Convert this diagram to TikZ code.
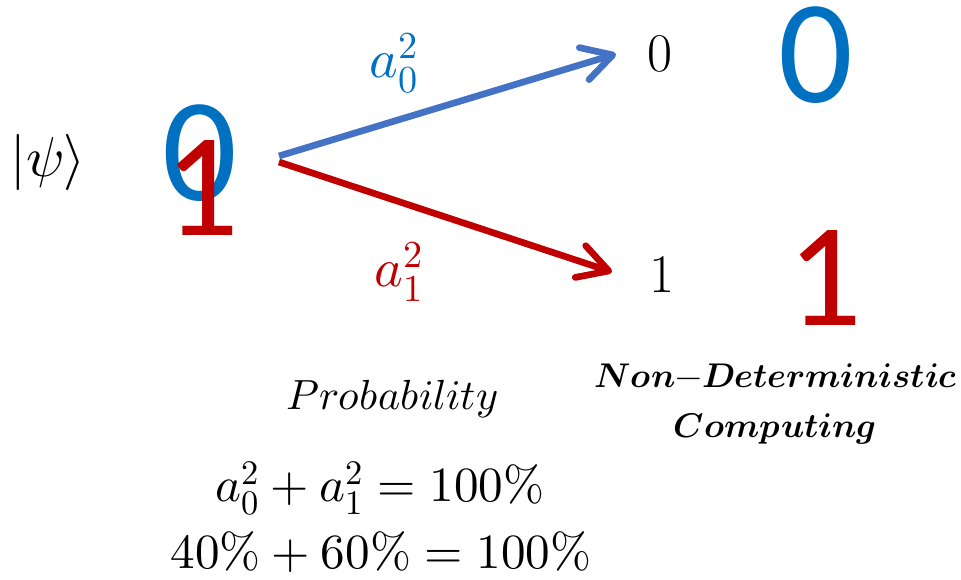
\documentclass[tikz,border=0pt]{standalone}
\usepackage{fontspec}
\usepackage{unicode-math}
\setmathfont{Latin Modern Math}
\newfontfamily\bitfont{Carlito}
\definecolor{Zcol}{HTML}{0070C0}
\definecolor{Ocol}{HTML}{C00000}
\definecolor{Lcol}{HTML}{4472C4}
\usetikzlibrary{arrows.meta}
\tikzset{
    >={Straight Barb[length=17pt, width=19pt, round]},
    bigbit/.style={inner sep=0pt, font=\bitfont\fontsize{84}{84}\selectfont},
    smallbit/.style={inner sep=0pt, font=\fontsize{31}{31}\selectfont},
    branch/.style={->, line width=3.8pt}
}

\begin{document}
\begin{tikzpicture}[x=0.02cm, y=-0.02cm]
    \useasboundingbox (0,0) rectangle (961,580);

    % Input state
    \node[font=\fontsize{32}{32}\selectfont] (ket) at (48,162) {$|\psi\rangle$};

    % Superposed bits
    \node[bigbit, Zcol] (sup0) at (200,153) {0};
    \node[bigbit, Ocol] (sup1) at (202,188) {1};

    % Measured bits
    \node[smallbit] (bit0) at (660,54) {0};
    \node[smallbit] (bit1) at (662,275) {1};
    \node[bigbit, Zcol] (res0) at (816,55) {0};
    \node[bigbit, Ocol] (res1) at (825,278) {1};

    % Branch ends
    \coordinate (split0) at (279,156);
    \coordinate (split1) at (279,162);
    \coordinate (tip0) at (616,54);
    \coordinate (tip1) at (612,272);

    % Branches
    \draw[branch, Ocol] (split1) -- (tip1);
    \draw[branch, Lcol] (split0) -- (tip0);

    % Amplitude labels
    \node[anchor=base, Zcol, font=\fontsize{31}{31}\selectfont] (amp0) at (394,78) {$a_0^2$};
    \node[anchor=base, Ocol, font=\fontsize{31}{31}\selectfont] (amp1) at (399,287) {$a_1^2$};

    % Captions
    \node[anchor=base, font=\fontsize{24}{24}\selectfont] (prob) at (392,410) {$Probability$};
    \node[anchor=base, font=\fontsize{19.5}{19.5}\selectfont] (nondet) at (776,388) {$\symbfit{Non}{-}\symbfit{Deterministic}$};
    \node[anchor=base, font=\fontsize{19.5}{19.5}\selectfont] (comp) at (775,438) {$\symbfit{Computing}$};

    % Sums
    \node[anchor=base, font=\fontsize{28}{28}\selectfont] (sum) at (380,502) {$a_0^2 + a_1^2 = 100\%$};
    \node[anchor=base, font=\fontsize{28}{28}\selectfont] (val) at (381,569) {$40\% + 60\% = 100\%$};
\end{tikzpicture}
\end{document}
